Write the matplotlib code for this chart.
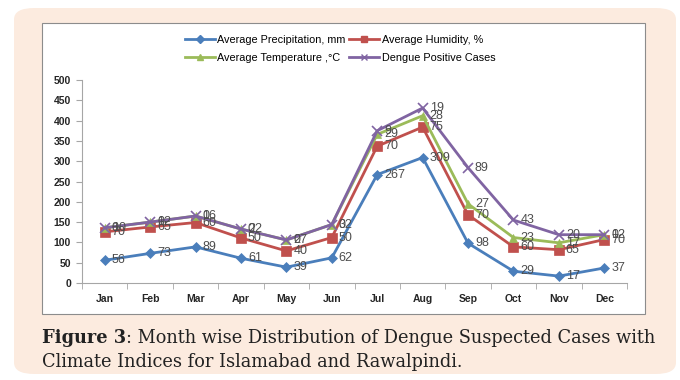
import numpy as np
import matplotlib
matplotlib.use("Agg")
import matplotlib.pyplot as plt
from matplotlib.patches import FancyBboxPatch, Rectangle
from matplotlib.lines import Line2D

months = ["Jan", "Feb", "Mar", "Apr", "May", "Jun", "Jul", "Aug", "Sep", "Oct", "Nov", "Dec"]
precipitation = [56, 73, 89, 61, 39, 62, 267, 309, 98, 29, 17, 37]
humidity = [70, 65, 60, 50, 40, 50, 70, 75, 70, 60, 65, 70]
temperature = [10, 12, 16, 22, 27, 32, 29, 28, 27, 23, 17, 12]
dengue = [0, 0, 0, 0, 0, 0, 9, 19, 89, 43, 20, 0]
y_ticks = [0, 50, 100, 150, 200, 250, 300, 350, 400, 450, 500]

series = [
    ("Average Precipitation, mm", precipitation, "#4A7EBB", "D", 5.5),
    ("Average Humidity, %", humidity, "#C0504D", "s", 7),
    ("Average Temperature ,°C", temperature, "#9BBB59", "^", 6),
    ("Dengue Positive Cases", dengue, "#8064A2", "x", 7),
]

W, H = 680, 380
fig = plt.figure(figsize=(W / 100, H / 100), dpi=100)
fig.patch.set_facecolor("white")

def px(x0, y0, x1, y1):
    # pixel box (top-left origin) -> figure fraction rect
    return [x0 / W, 1 - y1 / H, (x1 - x0) / W, (y1 - y0) / H]

# peach card and white chart frame
card = FancyBboxPatch((14 / W, 6 / H), 662 / W, 366 / H,
                      boxstyle="round,pad=0,rounding_size=0.03",
                      transform=fig.transFigure, facecolor="#FCEBDF",
                      edgecolor="none", zorder=0)
fig.patches.append(card)
r = px(42, 23, 645, 314)
frame = Rectangle((r[0], r[1]), r[2], r[3], transform=fig.transFigure,
                  facecolor="white", edgecolor="#8C8C8C", linewidth=0.8, zorder=1)
fig.patches.append(frame)

ax = fig.add_axes(px(82, 80, 627, 283))
ax.set_zorder(2)
ax.patch.set_alpha(0)

x = np.arange(len(months))
stack = np.zeros(len(months))
handles = []
for name, vals, color, marker, ms in series:
    vals = np.array(vals, dtype=float)
    stack = stack + vals
    (ln,) = ax.plot(x, stack, color=color, linewidth=2, marker=marker,
                    markersize=ms, markeredgewidth=1.2 if marker == "x" else 0.5,
                    markeredgecolor=color, markerfacecolor=color, label=name,
                    clip_on=False)
    handles.append(ln)
    for xi, yi, v in zip(x, stack, vals):
        ax.annotate(f"{int(v)}", (xi, yi), xytext=(5, 0), textcoords="offset points",
                    ha="left", va="center", fontsize=9, color="#4D4D4D",
                    family="Liberation Sans")

ax.set_xlim(-0.5, 11.5)
ax.set_ylim(0, 500)
ax.set_yticks(y_ticks)
ax.set_yticklabels([str(v) for v in y_ticks], fontsize=7.5, fontweight="bold",
                   family="Liberation Sans", color="#262626")
ax.set_xticks(x)
ax.set_xticklabels(months, fontsize=7.5, fontweight="bold",
                   family="Liberation Sans", color="#262626")
ax.set_xticks(np.arange(-0.5, 12, 1), minor=True)
ax.tick_params(axis="x", which="major", length=0, pad=8)
ax.tick_params(axis="x", which="minor", length=4, color="#A6A6A6", direction="out")
ax.tick_params(axis="y", length=4, color="#A6A6A6", direction="out", pad=4)
for s in ["top", "right"]:
    ax.spines[s].set_visible(False)
for s in ["left", "bottom"]:
    ax.spines[s].set_color("#A6A6A6")
    ax.spines[s].set_linewidth(0.8)

order = [handles[0], handles[2], handles[1], handles[3]]
leg_handles = [Line2D([], [], color=h.get_color(), marker=h.get_marker(),
                      markersize=4, linewidth=2, markeredgecolor=h.get_color(),
                      markerfacecolor=h.get_color()) for h in order]
fig.legend(leg_handles, [h.get_label() for h in order], ncol=2,
           loc="center", bbox_to_anchor=(340 / W, 1 - 49 / H), frameon=False,
           prop={"family": "Liberation Sans", "size": 7.8}, handlelength=2.8,
           handletextpad=0.2, columnspacing=0.3, labelspacing=0.75)

# caption: bold figure number followed by regular text, fitted to the frame width
cap_font = "DejaVu Serif"
cap_size = 11
renderer = fig.canvas.get_renderer()
t_bold = fig.text(42 / W, 1 - 338 / H, "Figure 3", fontsize=cap_size, fontweight="bold",
                  family=cap_font, va="center", ha="left", color="#222222")
t_rest = fig.text(0, 1 - 338 / H, ": Month wise Distribution of Dengue Suspected Cases with",
                  fontsize=cap_size, family=cap_font, va="center", ha="left", color="#222222")
w_total = (t_bold.get_window_extent(renderer).width
           + t_rest.get_window_extent(renderer).width)
cap_size = cap_size * (655 - 42) / w_total
t_bold.set_fontsize(cap_size)
t_rest.set_fontsize(cap_size)
bb = t_bold.get_window_extent(renderer)
t_rest.set_x(bb.x1 / W)
fig.text(42 / W, 1 - 362 / H, "Climate Indices for Islamabad and Rawalpindi.",
         fontsize=cap_size, family=cap_font, va="center", ha="left", color="#222222")

fig.savefig("out.png", dpi=100, facecolor=fig.get_facecolor())
